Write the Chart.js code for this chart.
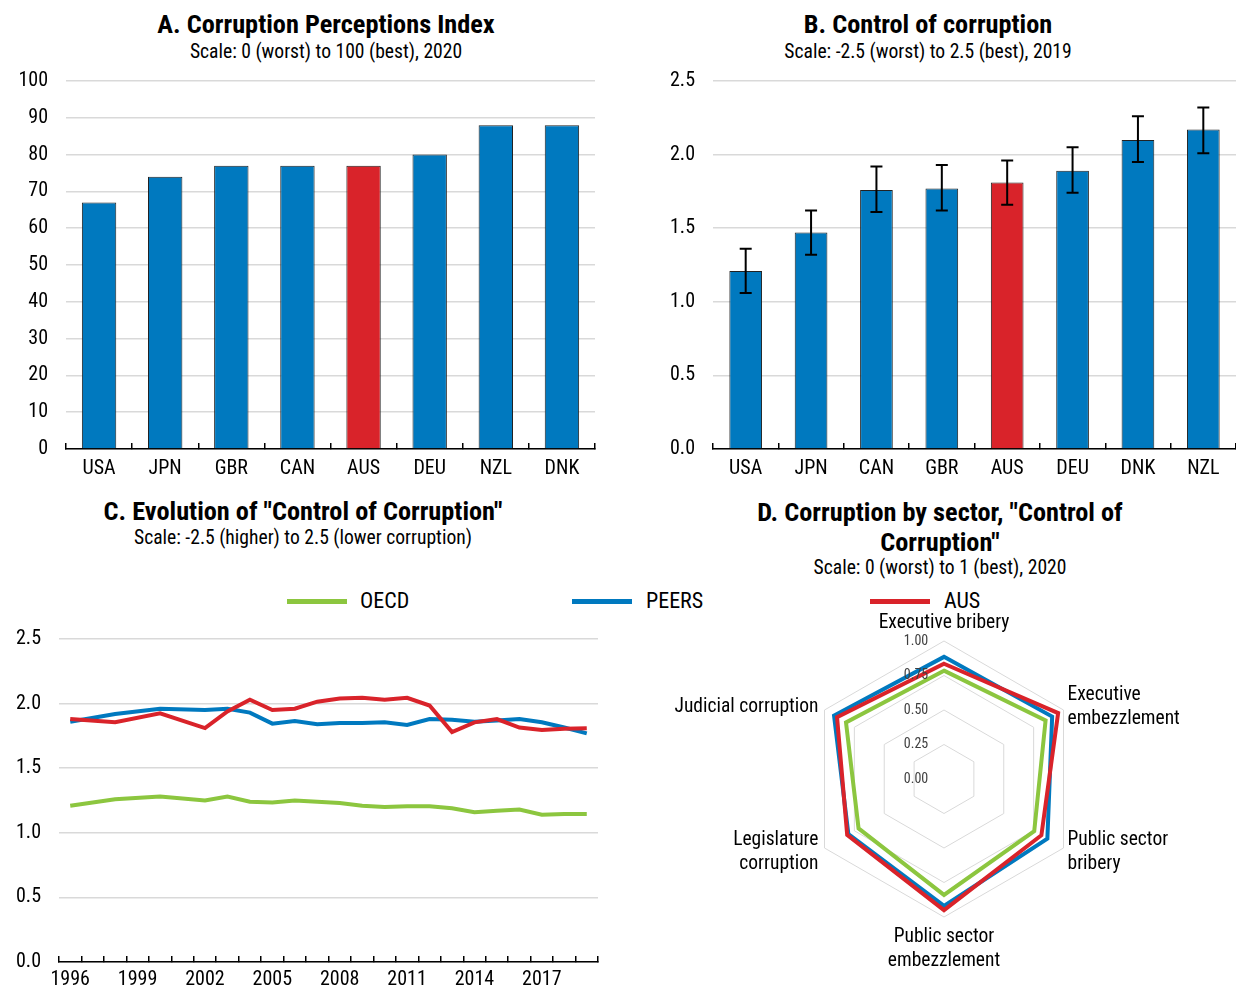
<!DOCTYPE html>
<html>
<head>
<meta charset="utf-8">
<script src="https://cdn.jsdelivr.net/npm/chart.js@4.4.1/dist/chart.umd.min.js"></script>
<style>
  html, body { margin: 0; padding: 0; background: #fff; }
  body { width: 1236px; height: 986px; position: relative; overflow: hidden;
         font-family: Roboto, "Liberation Sans", Arial, sans-serif; font-stretch: condensed; color: #000; }
  canvas { position: absolute; }
  .ttl { position: absolute; text-align: center; font-weight: bold; font-size: 26.3px; line-height: 28px; white-space: nowrap; }
  .sub { position: absolute; text-align: center; font-size: 19.6px; line-height: 22px; white-space: nowrap; }
  .sw { position: absolute; height: 5px; width: 60px; }
  .lg { position: absolute; font-size: 22px; line-height: 24px; }
</style>
</head>
<body>
<div class="ttl" style="left:26px;width:600px;top:10px;">A. Corruption Perceptions Index</div>
<div class="sub" style="left:26px;width:600px;top:41px;">Scale: 0 (worst) to 100 (best), 2020</div>
<div class="ttl" style="left:628px;width:600px;top:10px;">B. Control of corruption</div>
<div class="sub" style="left:628px;width:600px;top:41px;">Scale: -2.5 (worst) to 2.5 (best), 2019</div>
<div class="ttl" style="left:3px;width:600px;top:497px;">C. Evolution of "Control of Corruption"</div>
<div class="sub" style="left:3px;width:600px;top:527px;">Scale: -2.5 (higher) to 2.5 (lower corruption)</div>
<div class="ttl" style="left:640px;width:600px;top:497px;line-height:30px;">D. Corruption by sector, "Control of<br>Corruption"</div>
<div class="sub" style="left:640px;width:600px;top:557px;">Scale: 0 (worst) to 1 (best), 2020</div>

<div class="sw" style="left:287px;top:599px;background:#8CC63F;"></div>
<div class="lg" style="left:360px;top:589px;">OECD</div>
<div class="sw" style="left:572px;top:599px;background:#0079BF;"></div>
<div class="lg" style="left:646px;top:589px;">PEERS</div>
<div class="sw" style="left:870px;top:599px;background:#D9232A;"></div>
<div class="lg" style="left:944px;top:589px;">AUS</div>

<canvas id="cpi" width="615" height="428" style="left:0px;top:61px;"></canvas>
<canvas id="wgi" width="606" height="428" style="left:630px;top:61px;"></canvas>
<canvas id="trend" width="615" height="373" style="left:0px;top:619px;"></canvas>
<canvas id="sector" width="596" height="396" style="left:640px;top:590px;"></canvas>

<script>
// Panel A: Corruption Perceptions Index, 2020
const cpiCountries = ['USA', 'JPN', 'GBR', 'CAN', 'AUS', 'DEU', 'NZL', 'DNK'];
const cpiScores = [67, 74, 77, 77, 77, 80, 88, 88];

// Panel B: WGI control of corruption, 2019, with confidence bounds
const wgiCountries = ['USA', 'JPN', 'CAN', 'GBR', 'AUS', 'DEU', 'DNK', 'NZL'];
const wgiEstimates = [1.21, 1.47, 1.76, 1.77, 1.81, 1.89, 2.10, 2.17];
const wgiLower = [1.06, 1.32, 1.61, 1.62, 1.66, 1.74, 1.95, 2.01];
const wgiUpper = [1.36, 1.62, 1.92, 1.93, 1.96, 2.05, 2.26, 2.32];

// Panel C: control of corruption over time (no estimates for 1997, 1999, 2001)
const years = ['1996', '1997', '1998', '1999', '2000', '2001', '2002', '2003', '2004', '2005', '2006', '2007',
               '2008', '2009', '2010', '2011', '2012', '2013', '2014', '2015', '2016', '2017', '2018', '2019'];
const oecdTrend = [1.21, null, 1.26, null, 1.28, null, 1.25, 1.28, 1.24, 1.235, 1.25, 1.24,
                   1.23, 1.21, 1.20, 1.205, 1.205, 1.19, 1.16, 1.17, 1.18, 1.14, 1.145, 1.145];
const peersTrend = [1.86, null, 1.92, null, 1.96, null, 1.95, 1.96, 1.93, 1.845, 1.865, 1.84,
                    1.85, 1.85, 1.855, 1.835, 1.88, 1.875, 1.86, 1.87, 1.88, 1.855, 1.815, 1.77];
const ausTrend = [1.88, null, 1.855, null, 1.925, null, 1.81, 1.94, 2.03, 1.95, 1.96, 2.015,
                  2.04, 2.045, 2.03, 2.045, 1.985, 1.78, 1.855, 1.88, 1.815, 1.795, 1.805, 1.81];

// Panel D: corruption by sector, 2020
const sectors = [['Executive bribery'], ['Executive', 'embezzlement'], ['Public sector', 'bribery'],
                 ['Public sector', 'embezzlement'], ['Legislature', 'corruption'], ['Judicial corruption']];
const oecdSector = [0.785, 0.85, 0.755, 0.84, 0.715, 0.82];
const peersSector = [0.885, 0.905, 0.865, 0.92, 0.80, 0.92];
const ausSector = [0.835, 0.955, 0.815, 0.95, 0.81, 0.895];
const radarTicks = [0, 0.25, 0.5, 0.75, 1];

const FONT = 'Roboto, "Liberation Sans", Arial, sans-serif';
const BLUE = '#0079BF', RED = '#D9232A', GREEN = '#8CC63F', GRID = '#d9d9d9';

Chart.defaults.font.family = FONT;
Chart.defaults.font.size = 20;
Chart.defaults.font.weight = 'condensed';
Chart.defaults.color = '#000';
Chart.defaults.devicePixelRatio = 1;
Chart.defaults.animation = false;
Chart.defaults.responsive = false;
Chart.defaults.plugins.legend.display = false;
Chart.defaults.plugins.tooltip.enabled = false;

function barColors(labels) {
  return labels.map(c => c === 'AUS' ? RED : BLUE);
}

function valueAxis(min, max, step, width, decimals) {
  return {
    min: min, max: max,
    // fixed label column; tick padding should not push the plot area down
    afterFit: s => { s.width = width; s.paddingTop = 0; s.paddingBottom = 0; },
    border: { display: false },
    grid: { color: GRID, lineWidth: 1.5, drawTicks: false },
    ticks: { stepSize: step, padding: 18, font: { size: 20 },
             callback: v => decimals ? Number(v).toFixed(decimals) : v }
  };
}

function categoryAxis(height, padding, callback) {
  const t = { padding: padding, autoSkip: false, maxRotation: 0, font: { size: 20 } };
  if (callback) t.callback = callback;
  return {
    offset: true,
    afterFit: s => { s.height = height; },
    border: { display: true, color: '#000', width: 1.5 },
    grid: { offset: true, drawOnChartArea: false, drawTicks: true, tickLength: -6, color: '#000', lineWidth: 1.5 },
    ticks: t
  };
}

// Panel A
new Chart(document.getElementById('cpi'), {
  type: 'bar',
  data: {
    labels: cpiCountries,
    datasets: [{ data: cpiScores, backgroundColor: barColors(cpiCountries), borderColor: '#222',
                 borderWidth: 1, barPercentage: 0.52, categoryPercentage: 1 }]
  },
  options: {
    layout: { padding: { top: 20, right: 20, left: 0, bottom: 0 } },
    scales: { x: categoryAxis(40, 14), y: valueAxis(0, 100, 10, 66, 0) }
  }
});

// Panel B, with error bars drawn from the bounds arrays
const errorBars = {
  id: 'errorBars',
  afterDatasetsDraw(chart) {
    const meta = chart.getDatasetMeta(0);
    const y = chart.scales.y;
    const ctx = chart.ctx;
    ctx.save();
    ctx.strokeStyle = '#000';
    ctx.lineWidth = 2;
    meta.data.forEach((bar, i) => {
      const top = y.getPixelForValue(wgiUpper[i]);
      const bot = y.getPixelForValue(wgiLower[i]);
      ctx.beginPath();
      ctx.moveTo(bar.x, top); ctx.lineTo(bar.x, bot);
      ctx.moveTo(bar.x - 6, top); ctx.lineTo(bar.x + 6, top);
      ctx.moveTo(bar.x - 6, bot); ctx.lineTo(bar.x + 6, bot);
      ctx.stroke();
    });
    ctx.restore();
  }
};

new Chart(document.getElementById('wgi'), {
  type: 'bar',
  data: {
    labels: wgiCountries,
    datasets: [{ data: wgiEstimates, backgroundColor: barColors(wgiCountries), borderColor: '#222',
                 borderWidth: 1, barPercentage: 0.5, categoryPercentage: 1 }]
  },
  options: {
    layout: { padding: { top: 20, right: 0, left: 0, bottom: 0 } },
    scales: { x: categoryAxis(40, 14), y: valueAxis(0, 2.5, 0.5, 83, 1) }
  },
  plugins: [errorBars]
});

// Panel C
function trendSet(label, data, color, order) {
  return { label: label, data: data, borderColor: color, backgroundColor: color, borderWidth: 4,
           pointRadius: 0, tension: 0, spanGaps: true, order: order };
}

new Chart(document.getElementById('trend'), {
  type: 'line',
  data: {
    labels: years,
    datasets: [trendSet('OECD', oecdTrend, GREEN, 2), trendSet('PEERS', peersTrend, BLUE, 1),
               trendSet('AUS', ausTrend, RED, 0)]
  },
  options: {
    layout: { padding: { top: 20, right: 17, left: 0, bottom: 0 } },
    scales: {
      x: categoryAxis(30, 12, function (v, i) { return i % 3 === 0 ? this.getLabelForValue(v) : ''; }),
      y: valueAxis(0, 2.5, 0.5, 59, 1)
    }
  }
});

// Panel D: sector labels and ring values placed with the radial scale's geometry
const radarText = {
  id: 'radarText',
  afterDraw(chart) {
    const r = chart.scales.r;
    const ctx = chart.ctx;
    ctx.save();
    ctx.fillStyle = '#404040';
    ctx.font = 'condensed 14px ' + FONT;
    ctx.textAlign = 'center';
    ctx.textBaseline = 'middle';
    radarTicks.forEach(v => {
      ctx.fillText(v.toFixed(2), r.xCenter - 28, r.yCenter - r.getDistanceFromCenterForValue(v));
    });
    ctx.fillStyle = '#000';
    ctx.font = 'condensed 19.5px ' + FONT;
    const lh = 24;
    const place = [
      { align: 'center', dx: 0, dy: -18 },
      { align: 'left', dx: 4, dy: -3 },
      { align: 'left', dx: 4, dy: 4 },
      { align: 'center', dx: 0, dy: 32 },
      { align: 'right', dx: -6, dy: 4 },
      { align: 'right', dx: -6, dy: -3 }
    ];
    sectors.forEach((lines, i) => {
      const p = r.getPointPosition(i, r.drawingArea);
      const cfg = place[i];
      ctx.textAlign = cfg.align;
      const y0 = p.y + cfg.dy - (lines.length - 1) * lh / 2;
      lines.forEach((ln, k) => ctx.fillText(ln, p.x + cfg.dx, y0 + k * lh));
    });
    ctx.restore();
  }
};

function sectorSet(label, data, color, order) {
  return { label: label, data: data, borderColor: color, backgroundColor: 'rgba(0,0,0,0)', borderWidth: 4,
           pointRadius: 0, tension: 0, fill: false, order: order };
}

new Chart(document.getElementById('sector'), {
  type: 'radar',
  data: {
    labels: sectors,
    datasets: [sectorSet('OECD', oecdSector, GREEN, 2), sectorSet('PEERS', peersSector, BLUE, 1),
               sectorSet('AUS', ausSector, RED, 0)]
  },
  options: {
    layout: { padding: { left: 166, right: 154, top: 51, bottom: 69 } },
    scales: {
      r: {
        min: 0, max: 1,
        angleLines: { display: false },
        grid: { color: GRID, lineWidth: 1 },
        pointLabels: { display: false },
        ticks: { display: false, stepSize: 0.25 }
      }
    }
  },
  plugins: [radarText]
});
</script>
</body>
</html>
